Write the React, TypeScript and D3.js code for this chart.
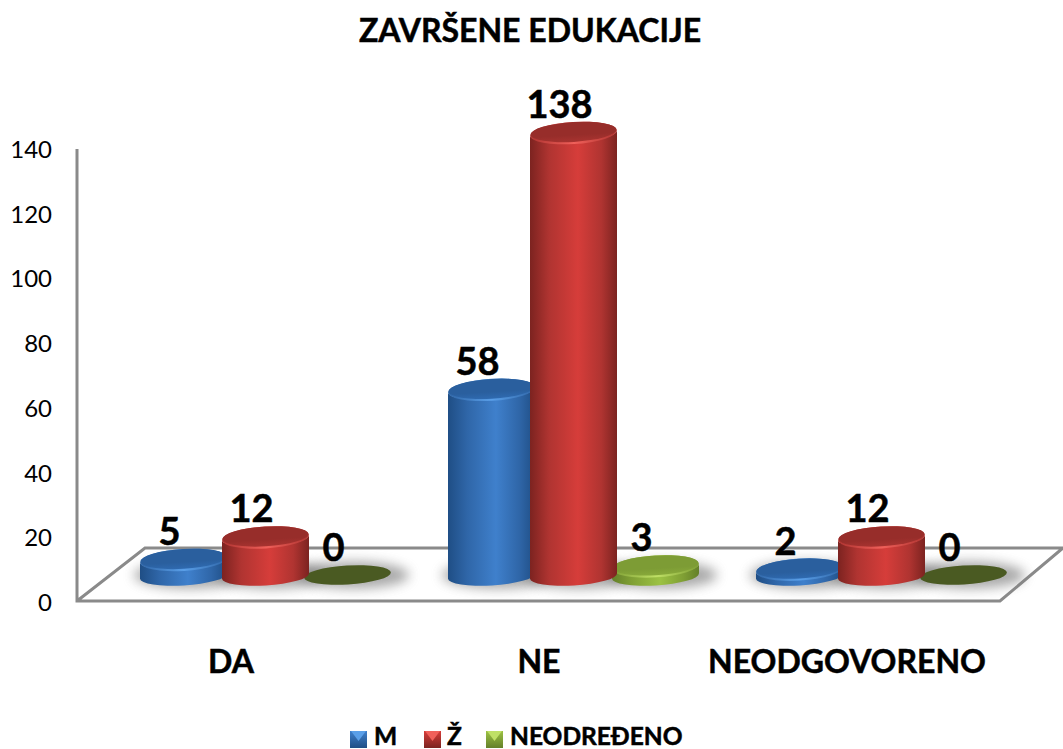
import React from "react";
import * as d3 from "d3";

const categories = ["DA", "NE", "NEODGOVORENO"];
const seriesNames = ["M", "Ž", "NEODREĐENO"];
const valuesM = [5, 58, 2];
const valuesZ = [12, 138, 12];
const valuesN = [0, 3, 0];
const tickValues = [0, 20, 40, 60, 80, 100, 120, 140];

const FONT = "Lato, Carlito, sans-serif";
const palette = [
  { id: "b", dark: "#1f4e85", soft: "#2f66a8", mid: "#3f80cc", top: "#2a5f9e", low: "#2f6ab0", rim: "#5a9fe8" },
  { id: "r", dark: "#7c2320", soft: "#b03431", mid: "#d63d3a", top: "#972d2a", low: "#a83330", rim: "#f0605a" },
  { id: "g", dark: "#64802a", soft: "#7f9f34", mid: "#9cc244", top: "#7d9c35", low: "#88a93a", rim: "#bfe066" },
];

const x = d3.scalePoint<string>().domain(categories).range([266, 882]);
const offset = d3.scaleBand<string>().domain(seriesNames).range([-123.5, 122.5]);
const yAxis = d3.scaleLinear().domain([0, 140]).range([602, 149]);
const h = d3.scaleLinear().domain([0, 138]).range([0, 443]);
const BASE = 576;
const RX = 43.5;
const RY = 9.5;
const ROT = -3.5;
const DY = RX * Math.sin((-ROT * Math.PI) / 180);
const data = [valuesM, valuesZ, valuesN];

function Cylinder({ cx, v, s }: { cx: number; v: number; s: number }) {
  const p = palette[s];
  const topY = BASE - h(v);
  const L = cx - RX, R = cx + RX;
  const side = `M${L},${topY + DY} L${L},${BASE + DY} A${RX},${RY} ${ROT} 0 0 ${R},${BASE - DY} L${R},${topY - DY} A${RX},${RY} ${ROT} 0 1 ${L},${topY + DY} Z`;
  if (v === 0) {
    return <ellipse cx={cx} cy={BASE - 1} rx={RX} ry={RY} fill="#4a5a22" transform={`rotate(${ROT} ${cx} ${BASE - 1})`} />;
  }
  return (
    <g>
      <path d={side} fill={`url(#side-${p.id})`} />
      <ellipse cx={cx} cy={topY} rx={RX} ry={RY + 1.5} fill={`url(#rim-${p.id})`} transform={`rotate(${ROT} ${cx} ${topY})`} />
      <ellipse cx={cx} cy={topY - 1} rx={RX - 0.5} ry={RY + 0.4} fill={`url(#top-${p.id})`} transform={`rotate(${ROT} ${cx} ${topY - 1})`} />
    </g>
  );
}

export default function App() {
  const bars = data.flatMap((vals, s) =>
    vals.map((v, c) => ({ v, s, c, cx: (x(categories[c]) as number) + (offset(seriesNames[s]) as number) + offset.bandwidth() / 2 }))
  );
  const drawOrder = [
    ...bars.filter((b) => b.s === 2),
    ...bars.filter((b) => b.s === 0),
    ...bars.filter((b) => b.s === 1),
  ];
  const legend = [
    { s: 0, bx: 350, tx: 374 },
    { s: 1, bx: 424, tx: 447 },
    { s: 2, bx: 486, tx: 510 },
  ];
  const heavy = { stroke: "#000", strokeWidth: 0.5 };
  return (
    <svg width={1063} height={749} style={{ position: "absolute", left: 0, top: 0, background: "#fff" }} fontFamily={FONT}>
      <defs>
        {palette.map((p) => (
          <React.Fragment key={p.id}>
            <linearGradient id={`side-${p.id}`} x1="0" x2="1" y1="0" y2="0">
              <stop offset="0" stopColor={p.dark} />
              <stop offset="0.22" stopColor={p.soft} />
              <stop offset="0.55" stopColor={p.mid} />
              <stop offset="0.82" stopColor={p.soft} />
              <stop offset="1" stopColor={p.dark} />
            </linearGradient>
            <linearGradient id={`rim-${p.id}`} x1="0" x2="1" y1="0" y2="0">
              <stop offset="0" stopColor={p.soft} />
              <stop offset="0.5" stopColor={p.rim} />
              <stop offset="1" stopColor={p.soft} />
            </linearGradient>
            <linearGradient id={`top-${p.id}`} x1="0" x2="0" y1="0" y2="1">
              <stop offset="0" stopColor={p.top} />
              <stop offset="0.65" stopColor={p.top} />
              <stop offset="1" stopColor={p.low} />
            </linearGradient>
            <linearGradient id={`leg-${p.id}`} x1="0" x2="0" y1="0" y2="1">
              <stop offset="0" stopColor={p.mid} />
              <stop offset="1" stopColor={p.dark} />
            </linearGradient>
          </React.Fragment>
        ))}
        <filter id="blur" x="-30%" y="-60%" width="160%" height="220%">
          <feGaussianBlur stdDeviation="6" />
        </filter>
      </defs>

      <text x={530} y={42} textAnchor="middle" fontSize={32} fontWeight={700} fill="#000" {...heavy}>ZAVRŠENE EDUKACIJE</text>

      <path d="M77,149 L77,601 L1000,601 L1063,548 M77,601 L145,548 L1063,548" fill="none" stroke="#8a8a8a" strokeWidth={3} />
      {yAxis.ticks(7).filter((t) => tickValues.includes(t)).map((t) => (
        <text key={t} x={52} y={yAxis(t) + 9} textAnchor="end" fontSize={24} fill="#000">{t}</text>
      ))}

      {drawOrder.map((b) => (
        <ellipse key={`sh${b.s}${b.c}`} cx={b.cx + 6} cy={BASE - 1} rx={RX + 12} ry={RY + 4} fill="#7a7a7a" opacity={0.65} filter="url(#blur)" />
      ))}

      {drawOrder.map((b) => (
        <Cylinder key={`c${b.s}${b.c}`} cx={b.cx} v={b.v} s={b.s} />
      ))}

      {bars.map((b) => (
        <text key={`t${b.s}${b.c}`} x={b.cx - 14} y={BASE - h(b.v) - 15} textAnchor="middle" fontSize={38} fontWeight={700} fill="#000" {...heavy}>{b.v}</text>
      ))}

      {categories.map((c) => (
        <text key={c} x={c === "NEODGOVORENO" ? 847 : (x(c) as number) - 35} y={673} textAnchor="middle" fontSize={32} fontWeight={700} fill="#000" {...heavy}>{c}</text>
      ))}

      {legend.map((l) => (
        <g key={l.s}>
          <rect x={l.bx} y={731} width={17} height={17} fill={`url(#leg-${palette[l.s].id})`} />
          <path d={`M${l.bx + 1},731 L${l.bx + 16},731 L${l.bx + 8.5},741 Z`} fill={palette[l.s].rim} />
          <text x={l.tx} y={745} fontSize={24.5} fontWeight={700} fill="#000" {...heavy}>{seriesNames[l.s]}</text>
        </g>
      ))}
    </svg>
  );
}
